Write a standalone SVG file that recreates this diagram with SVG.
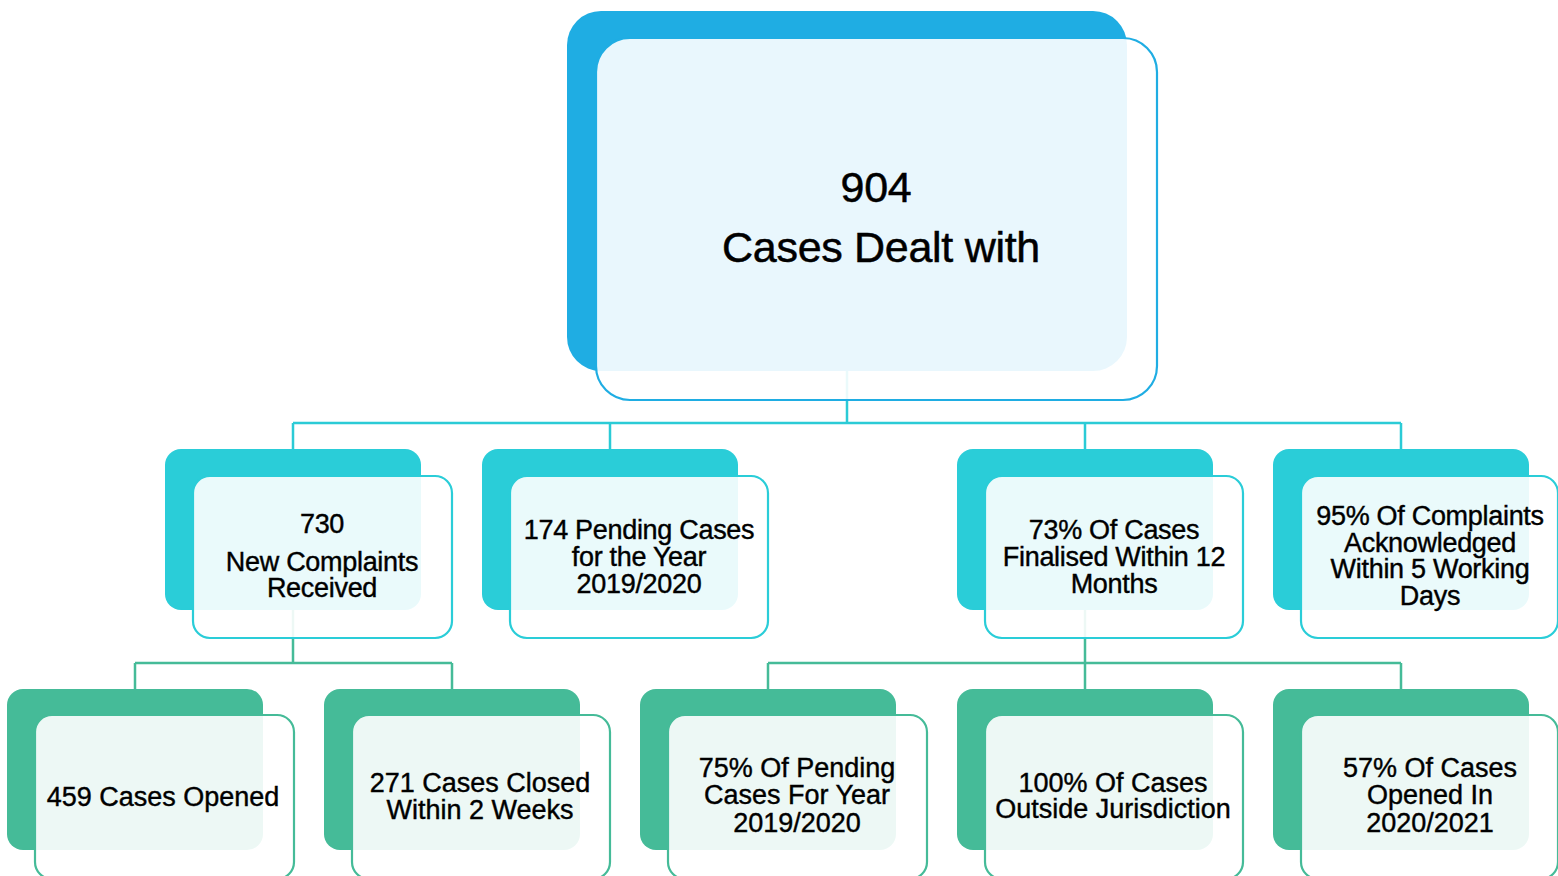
<svg xmlns="http://www.w3.org/2000/svg" width="1558" height="876" viewBox="0 0 1558 876">
<style>
.bg{fill:#ffffff}
.c1{fill:none;stroke:#2BCBD6;stroke-width:2.5}
.c2{fill:none;stroke:#45BB98;stroke-width:2.5}
.b0{fill:#1FADE3}
.f0{fill:#ffffff;fill-opacity:0.9;stroke:#1FADE3;stroke-width:2.2}
.b1{fill:#2ACDD8}
.f1{fill:#ffffff;fill-opacity:0.9;stroke:#2ACDD8;stroke-width:2.2}
.b2{fill:#45BB98}
.f2{fill:#ffffff;fill-opacity:0.9;stroke:#45BB98;stroke-width:2.2}
text{font-family:"Liberation Sans",Arial,Helvetica,sans-serif;fill:#000;text-anchor:middle;stroke:#000;stroke-width:0.4}
.t0{font-size:43px;letter-spacing:-0.3px;stroke-width:0.5}
.t1{font-size:27px;letter-spacing:-0.3px}
.t2{font-size:27px;letter-spacing:0px}
</style>
<rect class="bg" x="0" y="0" width="1558" height="876"/>
<g id="connectors">
<path class="c1" d="M847,371 V423 M293,423 H1401 M293,423 V449 M610,423 V449 M1085,423 V449 M1401,423 V449"/>
<path class="c2" d="M293,610 V663 M135,663 H452 M135,663 V689 M452,663 V689"/>
<path class="c2" d="M1085,610 V663 M768,663 H1401 M768,663 V689 M1085,663 V689 M1401,663 V689"/>
</g>
<g id="node-root">
<rect class="b0" x="567" y="11" width="560" height="360" rx="34"/>
<rect class="f0" x="596" y="38" width="561" height="362" rx="34"/>
<text class="t0" x="876" y="202">904</text>
<text class="t0" x="881" y="262">Cases Dealt with</text>
</g>
<g id="node-new-complaints">
<rect class="b1" x="165" y="449" width="256" height="161" rx="16"/>
<rect class="f1" x="193" y="476" width="259" height="162" rx="17"/>
<text class="t1" x="322" y="533">730</text>
<text class="t1" x="322" y="571">New Complaints</text>
<text class="t1" x="322" y="597">Received</text>
</g>
<g id="node-pending">
<rect class="b1" x="482" y="449" width="256" height="161" rx="16"/>
<rect class="f1" x="510" y="476" width="258" height="162" rx="17"/>
<text class="t1" x="639" y="539">174 Pending Cases</text>
<text class="t1" x="639" y="566">for the Year</text>
<text class="t1" x="639" y="593">2019/2020</text>
</g>
<g id="node-finalised">
<rect class="b1" x="957" y="449" width="256" height="161" rx="16"/>
<rect class="f1" x="985" y="476" width="258" height="162" rx="17"/>
<text class="t1" x="1114" y="539">73% Of Cases</text>
<text class="t1" x="1114" y="566">Finalised Within 12</text>
<text class="t1" x="1114" y="593">Months</text>
</g>
<g id="node-acknowledged">
<rect class="b1" x="1273" y="449" width="256" height="161" rx="16"/>
<rect class="f1" x="1301" y="476" width="257" height="162" rx="17"/>
<text class="t1" x="1430" y="525">95% Of Complaints</text>
<text class="t1" x="1430" y="552">Acknowledged</text>
<text class="t1" x="1430" y="578">Within 5 Working</text>
<text class="t1" x="1430" y="605">Days</text>
</g>
<g id="node-opened">
<rect class="b2" x="7" y="689" width="256" height="161" rx="16"/>
<rect class="f2" x="35" y="715" width="259" height="164" rx="17"/>
<text class="t2" x="163" y="806">459 Cases Opened</text>
</g>
<g id="node-closed">
<rect class="b2" x="324" y="689" width="256" height="161" rx="16"/>
<rect class="f2" x="352" y="715" width="258" height="164" rx="17"/>
<text class="t2" x="480" y="792">271 Cases Closed</text>
<text class="t2" x="480" y="819">Within 2 Weeks</text>
</g>
<g id="node-pending-pct">
<rect class="b2" x="640" y="689" width="256" height="161" rx="16"/>
<rect class="f2" x="668" y="715" width="259" height="164" rx="17"/>
<text class="t2" x="797" y="777">75% Of Pending</text>
<text class="t2" x="797" y="804">Cases For Year</text>
<text class="t2" x="797" y="832">2019/2020</text>
</g>
<g id="node-jurisdiction">
<rect class="b2" x="957" y="689" width="256" height="161" rx="16"/>
<rect class="f2" x="985" y="715" width="258" height="164" rx="17"/>
<text class="t2" x="1113" y="792">100% Of Cases</text>
<text class="t2" x="1113" y="818">Outside Jurisdiction</text>
</g>
<g id="node-opened-2021">
<rect class="b2" x="1273" y="689" width="256" height="161" rx="16"/>
<rect class="f2" x="1301" y="715" width="257" height="164" rx="17"/>
<text class="t2" x="1430" y="777">57% Of Cases</text>
<text class="t2" x="1430" y="804">Opened In</text>
<text class="t2" x="1430" y="832">2020/2021</text>
</g>
</svg>
